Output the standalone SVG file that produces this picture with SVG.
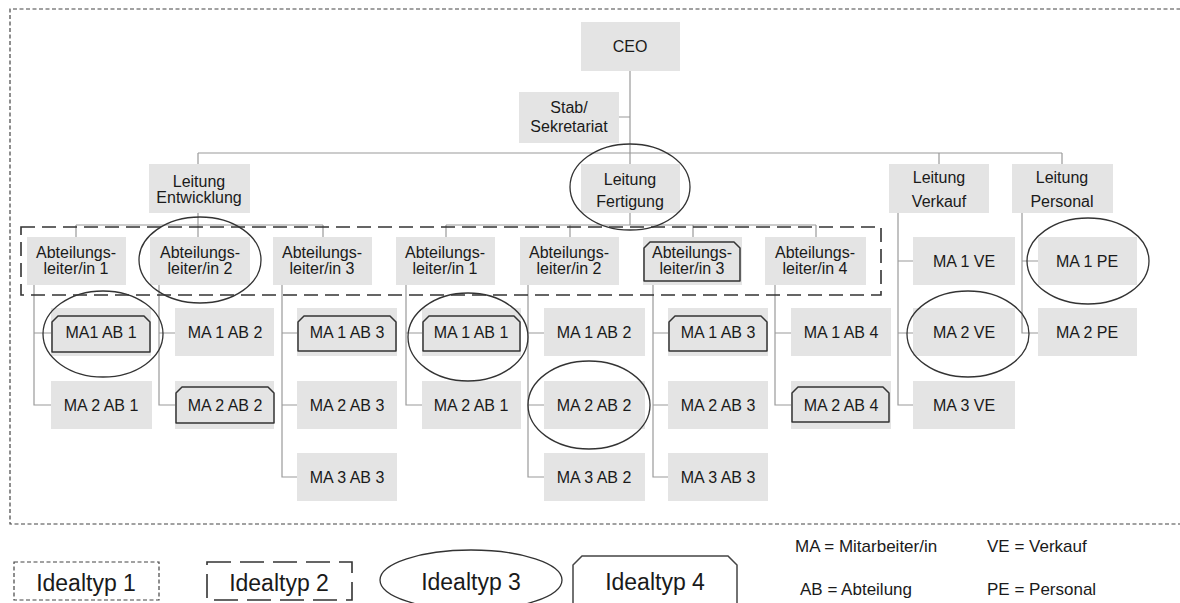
<svg xmlns="http://www.w3.org/2000/svg" width="1180" height="603" viewBox="0 0 1180 603">
<style>
.b{fill:#e4e4e4}
.t{font-family:"Liberation Sans",Arial,sans-serif;font-size:16px;fill:#1a1a1a;text-anchor:middle}
.lg{font-family:"Liberation Sans",Arial,sans-serif;font-size:23px;fill:#1a1a1a;text-anchor:middle}
.ab{font-family:"Liberation Sans",Arial,sans-serif;font-size:17px;fill:#1a1a1a}
.c{fill:none;stroke:#9a9a9a;stroke-width:1.2}
.i4{fill:#e4e4e4;stroke:#333;stroke-width:1.5;stroke-linejoin:round}
.el{fill:none;stroke:#333;stroke-width:1.3}
.dot{fill:none;stroke:#444;stroke-width:1.2;stroke-dasharray:4 2.5}
.dash{fill:none;stroke:#333;stroke-width:1.6;stroke-dasharray:14 7}
.dashL{fill:none;stroke:#333;stroke-width:1.6;stroke-dasharray:24 9}
</style>
<rect width="1180" height="603" fill="#fff"/>
<path id="idealtyp1-frame" class="dot" d="M1200 9H10V524H1200"/>
<g id="connectors">
<path class="c" d="M630 71V164M619 117H630M198 153H1062M198 153V164M939 153V164M1062 153V164"/>
<path class="c" d="M198 213V237M76 225H323M76 225V237M323 225V237"/>
<path class="c" d="M630 213V225M446 225H816M446 225V237M570 225V237M693 225V237M816 225V237"/>
<path class="c" d="M34 285V405H51M34 333H51"/>
<path class="c" d="M159 285V405H175M159 333H175"/>
<path class="c" d="M282 285V477H297M282 333H297M282 405H297"/>
<path class="c" d="M406 285V405H422M406 333H422"/>
<path class="c" d="M528 285V477H544M528 333H544M528 405H544"/>
<path class="c" d="M653 285V477H668M653 333H668M653 405H668"/>
<path class="c" d="M775 285V405H791M775 333H791"/>
<path class="c" d="M898 213V405H913M898 261H913M898 333H913"/>
<path class="c" d="M1022 213V333H1038M1022 261H1038"/>
</g>
<g id="ceo"><rect class="b" x="581" y="22" width="99" height="49"/><text class="t" x="630" y="52">CEO</text></g>
<g id="stab"><rect class="b" x="519" y="92" width="100" height="51"/><text class="t" x="569" y="113">Stab/</text><text class="t" x="569" y="132">Sekretariat</text></g>
<g id="l-entwicklung"><rect class="b" x="149" y="164" width="101" height="49"/><text class="t" x="199" y="187">Leitung</text><text class="t" x="199" y="203">Entwicklung</text></g>
<g id="l-fertigung"><rect class="b" x="581" y="164" width="99" height="49"/><text class="t" x="630" y="185">Leitung</text><text class="t" x="630" y="207">Fertigung</text></g>
<g id="l-verkauf"><rect class="b" x="889" y="164" width="100" height="49"/><text class="t" x="939" y="183">Leitung</text><text class="t" x="939" y="207">Verkauf</text></g>
<g id="l-personal"><rect class="b" x="1012" y="164" width="101" height="49"/><text class="t" x="1062" y="183">Leitung</text><text class="t" x="1062" y="207">Personal</text></g>

<g id="e-al1"><rect class="b" x="27" y="237" width="99" height="48"/><text class="t" x="76" y="258">Abteilungs-</text><text class="t" x="76" y="274">leiter/in 1</text></g>
<g id="e-al2"><rect class="b" x="150" y="237" width="100" height="48"/><text class="t" x="200" y="258">Abteilungs-</text><text class="t" x="200" y="274">leiter/in 2</text></g>
<g id="e-al3"><rect class="b" x="273" y="237" width="99" height="48"/><text class="t" x="322" y="258">Abteilungs-</text><text class="t" x="322" y="274">leiter/in 3</text></g>
<g id="f-al1"><rect class="b" x="396" y="237" width="99" height="48"/><text class="t" x="445" y="258">Abteilungs-</text><text class="t" x="445" y="274">leiter/in 1</text></g>
<g id="f-al2"><rect class="b" x="520" y="237" width="99" height="48"/><text class="t" x="569" y="258">Abteilungs-</text><text class="t" x="569" y="274">leiter/in 2</text></g>
<g id="f-al3"><rect class="b" x="643" y="237" width="99" height="48"/><path class="i4" d="M644 281L644 248L650 242L734 242L740 248L740 281Z"/><text class="t" x="692" y="258">Abteilungs-</text><text class="t" x="692" y="274">leiter/in 3</text></g>
<g id="f-al4"><rect class="b" x="765" y="237" width="101" height="48"/><text class="t" x="815" y="258">Abteilungs-</text><text class="t" x="815" y="274">leiter/in 4</text></g>

<g id="e-ma1ab1"><rect class="b" x="51" y="308" width="100" height="48"/><path class="i4" d="M52 352L52 322L58 316L144 316L150 322L150 352Z"/><text class="t" x="101" y="338">MA1 AB 1</text></g>
<g id="e-ma2ab1"><rect class="b" x="51" y="381" width="101" height="48"/><text class="t" x="101" y="411">MA 2 AB 1</text></g>
<g id="e-ma1ab2"><rect class="b" x="175" y="308" width="99" height="48"/><text class="t" x="225" y="338">MA 1 AB 2</text></g>
<g id="e-ma2ab2"><rect class="b" x="175" y="381" width="99" height="48"/><path class="i4" d="M176 423L176 393L182 387L268 387L274 393L274 423Z"/><text class="t" x="225" y="411">MA 2 AB 2</text></g>
<g id="e-ma1ab3"><rect class="b" x="297" y="308" width="100" height="48"/><path class="i4" d="M298 351L298 322L304 316L390 316L396 322L396 351Z"/><text class="t" x="347" y="338">MA 1 AB 3</text></g>
<g id="e-ma2ab3"><rect class="b" x="297" y="381" width="100" height="48"/><text class="t" x="347" y="411">MA 2 AB 3</text></g>
<g id="e-ma3ab3"><rect class="b" x="297" y="453" width="100" height="48"/><text class="t" x="347" y="483">MA 3 AB 3</text></g>

<g id="f-ma1ab1"><rect class="b" x="422" y="308" width="99" height="48"/><path class="i4" d="M423 351L423 322L429 316L514 316L520 322L520 351Z"/><text class="t" x="471" y="338">MA 1 AB 1</text></g>
<g id="f-ma2ab1"><rect class="b" x="422" y="381" width="99" height="48"/><text class="t" x="471" y="411">MA 2 AB 1</text></g>
<g id="f-ma1ab2"><rect class="b" x="544" y="308" width="101" height="48"/><text class="t" x="594" y="338">MA 1 AB 2</text></g>
<g id="f-ma2ab2"><rect class="b" x="544" y="381" width="101" height="48"/><text class="t" x="594" y="411">MA 2 AB 2</text></g>
<g id="f-ma3ab2"><rect class="b" x="544" y="453" width="101" height="48"/><text class="t" x="594" y="483">MA 3 AB 2</text></g>
<g id="f-ma1ab3"><rect class="b" x="668" y="308" width="100" height="48"/><path class="i4" d="M669 351L669 322L675 316L761 316L767 322L767 351Z"/><text class="t" x="718" y="338">MA 1 AB 3</text></g>
<g id="f-ma2ab3"><rect class="b" x="668" y="381" width="100" height="48"/><text class="t" x="718" y="411">MA 2 AB 3</text></g>
<g id="f-ma3ab3"><rect class="b" x="668" y="453" width="100" height="48"/><text class="t" x="718" y="483">MA 3 AB 3</text></g>
<g id="f-ma1ab4"><rect class="b" x="791" y="308" width="100" height="48"/><text class="t" x="841" y="338">MA 1 AB 4</text></g>
<g id="f-ma2ab4"><rect class="b" x="791" y="381" width="100" height="48"/><path class="i4" d="M792 422L792 393L798 387L883 387L889 393L889 422Z"/><text class="t" x="841" y="411">MA 2 AB 4</text></g>

<g id="ma1ve"><rect class="b" x="913" y="237" width="102" height="48"/><text class="t" x="964" y="267">MA 1 VE</text></g>
<g id="ma2ve"><rect class="b" x="913" y="308" width="102" height="48"/><text class="t" x="964" y="338">MA 2 VE</text></g>
<g id="ma3ve"><rect class="b" x="913" y="381" width="102" height="48"/><text class="t" x="964" y="411">MA 3 VE</text></g>
<g id="ma1pe"><rect class="b" x="1038" y="237" width="99" height="48"/><text class="t" x="1087" y="267">MA 1 PE</text></g>
<g id="ma2pe"><rect class="b" x="1038" y="308" width="99" height="48"/><text class="t" x="1087" y="338">MA 2 PE</text></g>

<g id="idealtyp2-frame"><rect class="dash" x="21" y="227" width="860" height="68"/></g>
<g id="idealtyp3-marks">
<ellipse class="el" cx="630" cy="187" rx="60" ry="43"/>
<ellipse class="el" cx="200" cy="260" rx="61" ry="43"/>
<ellipse class="el" cx="103" cy="334" rx="60" ry="43"/>
<ellipse class="el" cx="468" cy="337" rx="60" ry="44"/>
<ellipse class="el" cx="589" cy="405" rx="61" ry="44"/>
<ellipse class="el" cx="968" cy="334" rx="61" ry="43"/>
<ellipse class="el" cx="1088" cy="261" rx="61" ry="43"/>
</g>

<g id="legend">
<g id="leg1"><rect class="dot" x="14" y="562" width="145" height="38"/><text class="lg" x="86" y="591">Idealtyp 1</text></g>
<g id="leg2"><rect class="dashL" x="207" y="562" width="145" height="38"/><text class="lg" x="279" y="591">Idealtyp 2</text></g>
<g id="leg3"><ellipse class="el" cx="471" cy="580" rx="91" ry="30"/><text class="lg" x="471" y="590">Idealtyp 3</text></g>
<g id="leg4"><path fill="none" stroke="#444" stroke-width="1.5" d="M573 610L573 565L582 556L728 556L737 565L737 610"/><text class="lg" x="655" y="590">Idealtyp 4</text></g>
<text class="ab" x="795" y="552">MA = Mitarbeiter/in</text>
<text class="ab" x="987" y="552">VE = Verkauf</text>
<text class="ab" x="800" y="595">AB = Abteilung</text>
<text class="ab" x="987" y="595">PE = Personal</text>
</g>
</svg>
